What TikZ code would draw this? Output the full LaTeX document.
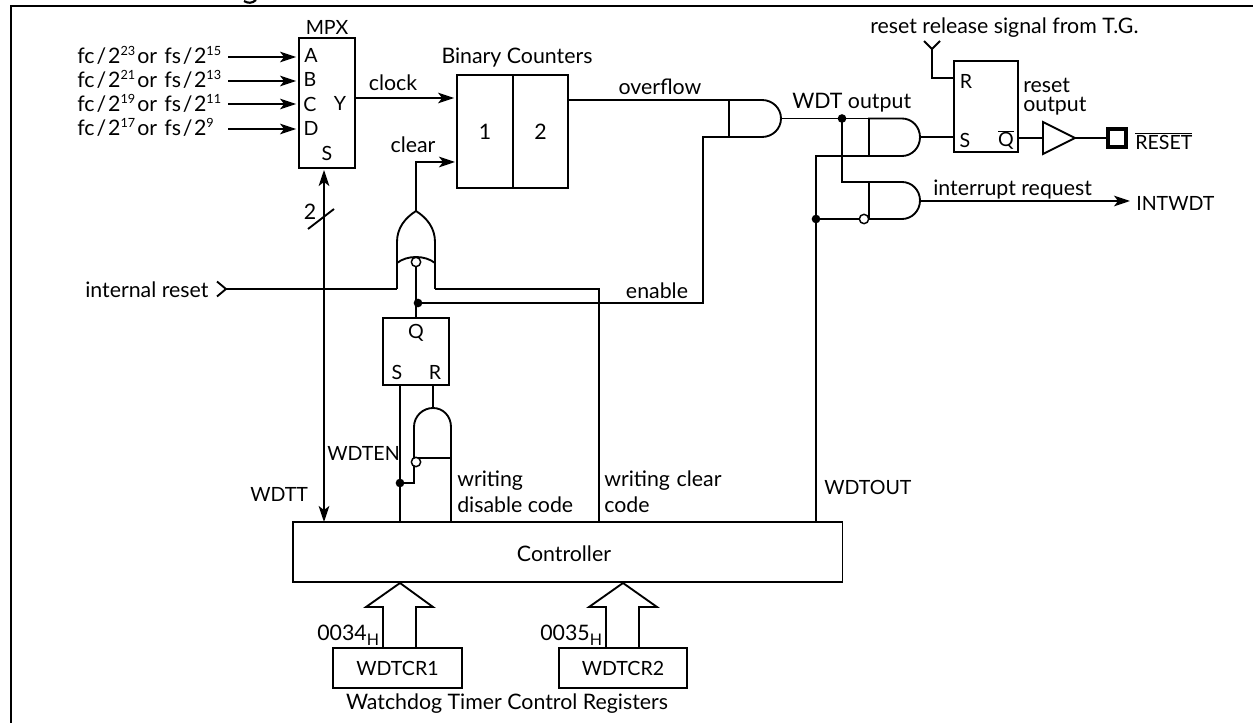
\documentclass[tikz,border=0pt]{standalone}
\usepackage{fontspec}
\setmainfont{Lato}
\usetikzlibrary{arrows.meta}
\newcommand{\upn}[1]{\raisebox{.42em}{\fontsize{9.5}{11}\selectfont #1}}
\newcommand{\dnn}[1]{\raisebox{-.25em}{\fontsize{12}{13}\selectfont #1}}
\newcommand{\fr}[2]{fc\kern1.5pt/\kern1.5pt2\upn{#1}\kern1.5pt or\kern5.5pt fs\kern1.2pt/\kern1.2pt2\upn{#2}}
\newcommand{\andh}[5]{% left, top, curve start, tip, bottom
  \draw[gate] (#1,#2) -- (#3,#2) .. controls ({#3+0.55*(#4-#3)},#2) and (#4,{(#2+#5)/2-0.28*(#5-#2)}) .. (#4,{(#2+#5)/2})
   .. controls (#4,{(#2+#5)/2+0.28*(#5-#2)}) and ({#3+0.55*(#4-#3)},#5) .. (#3,#5) -- (#1,#5) -- cycle;}
\tikzset{
  wire/.style={line width=1.4pt, line join=miter},
  gate/.style={line width=1.4pt},
  arr/.style={wire, -{Stealth[length=12pt,width=8pt,inset=3pt]}, shorten >=1.5pt},
  box/.style={draw, line width=1.4pt, inner sep=0pt, fill=white},
  lab/.style={inner sep=0pt, anchor=west},
  clab/.style={inner sep=0pt},
  capf/.style={font=\fontsize{14.7}{16}\selectfont},
  dot/.style={circle, fill=black, inner sep=0pt, minimum size=6.5pt},
  bub/.style={circle, draw, fill=white, line width=1.1pt, inner sep=0pt, minimum size=7pt},
}
\begin{document}
\begin{tikzpicture}[x=0.75pt,y=-0.75pt,font=\fontsize{16}{18}\selectfont]
\useasboundingbox (0,0) rectangle (1253,723);
% frame and clipped title remnant
\draw[line width=1.6pt] (11,723) -- (11,6) -- (1253,6);
\draw[line width=1.6pt] (244,1) .. controls (248,3.5) and (252,3.5) .. (256,0);
% boxes
\node[box,minimum width=42pt,minimum height=97.5pt] (mpx) at (327,103) {};
\node[box,minimum width=42pt,minimum height=84.75pt] (cnta) at (485,131.5) {1};
\node[box,minimum width=41.25pt,minimum height=84.75pt] (cntb) at (540.5,131.5) {2};
\node[box,minimum width=48pt,minimum height=68.25pt] (ffa) at (986,106.5) {};
\node[box,minimum width=49.5pt,minimum height=50.25pt] (ffb) at (416,351.5) {};
\node[box,minimum width=412.1pt,minimum height=45pt] (ctl) at (567.75,552) {};
\node[clab] (ctlt) at (564,554) {Controller};
\node[box,capf,minimum width=96.75pt,minimum height=30pt] (crone) at (397.5,668) {WDTCR1};
\node[box,capf,minimum width=96pt,minimum height=30pt] (crtwo) at (623,668) {WDTCR2};
% MPX labels
\node[clab,capf] (mpxt) at (327,27) {MPX};
\node[clab,capf] (pa) at (311,55) {A};
\node[clab,capf] (pb) at (310,79) {B};
\node[clab,capf] (pc) at (310,104) {C};
\node[clab,capf] (pd) at (311,128) {D};
\node[clab,capf] (py) at (340,103) {Y};
\node[clab,capf] (ps) at (327,153) {S};
% inputs
\node[lab,anchor=base west] (ia) at (77,64) {\fr{23}{15}};
\node[lab,anchor=base west] (ib) at (77,88) {\fr{21}{13}};
\node[lab,anchor=base west] (ic) at (77,112) {\fr{19}{11}};
\node[lab,anchor=base west] (id) at (77,136) {\fr{17}{9}};
\coordinate (ina) at (228,57);
\coordinate (inb) at (228,81);
\coordinate (inc) at (228,104);
\coordinate (ind) at (228,129);
\draw[arr] (ina) -- (mpx.west |- ina);
\draw[arr] (inb) -- (mpx.west |- inb);
\draw[arr] (inc) -- (mpx.west |- inc);
\draw[arr] (ind) -- (mpx.west |- ind);
% clock, clear
\coordinate (yo) at (355,98);
\draw[arr] (yo) -- (cnta.west |- yo);
\node[clab] (clk) at (393,83) {clock};
\node[clab] (clr) at (413,145) {clear};
\node[clab] (bc) at (517,58) {Binary Counters};
% OR gate
\coordinate (orl) at (397,289);
\coordinate (orr) at (435,289);
\coordinate (ortip) at (416,211);
\coordinate (clrin) at (457,162);
\draw[arr] (ortip) |- (clrin);
\draw[gate] (orl) -- (397,242) .. controls (397,228) and (405,218) .. (ortip) .. controls (427,218) and (435,228) .. (435,242) -- (orr);
\draw[gate] (397,263) .. controls (407,255) and (425,255) .. (435,263);
% internal reset
\node[lab] (ir) at (85,290) {internal reset};
\coordinate (irt) at (226,289);
\draw[wire] (irt) -- (orl);
\draw[wire] (217,281.5) -- (irt) -- (217,296.5);
% right OR input to writing clear code
\coordinate (wcc) at (599,522);
\draw[wire] (orr) -| (wcc);
% enable
\coordinate (qout) at (416,318);
\coordinate (endot) at (418,303);
\coordinate (ent) at (703,137);
\andh{729}{100}{762}{781}{137}
\draw[wire] (416,262) -- (qout);
\node[bub] (orb) at (416,262) {};
\draw[wire] (endot) -| (ent) -- (729,137);
\node[dot] at (endot) {};
\node[clab] (enl) at (657,291) {enable};
% overflow
\draw[wire] (cntb.east |- 0,100) -- (729,100);
\node[clab] (ovl) at (660,87) {overflow};
% WDT output
\coordinate (oa) at (781,118.5);
\coordinate (wd) at (842,118.5);
\andh{869}{118.5}{902}{920}{156}
\andh{869}{182}{902}{920}{219}
\draw[wire] (oa) -- (869,118.5);
\draw[wire] (wd) |- (869,182);
\node[dot] at (wd) {};
\node[lab] (wdl) at (792,103) {WDT output};
% WDTOUT
\coordinate (wo) at (816,522);
\draw[wire] (wo) |- (869,156);
\draw[wire] (816,219) -- (869,219);
\node[dot] at (816,219) {};
\node[bub] (gb) at (864,219) {};
\node[lab,capf] (wol) at (824,487) {WDTOUT};
% reset FF
\node[clab,capf] (fr) at (966,81) {R};
\node[clab,capf] (fs) at (965,140) {S};
\node[clab,capf] (fq) at (1006,140) {$\overline{\mbox{Q}}$};
\coordinate (rtop) at (932,49);
\coordinate (rin) at (954,78);
\draw[wire] (rtop) |- (rin);
\draw[wire] (924,41) -- (rtop) -- (940,41);
\node[lab] (rrs) at (870,28) {reset release signal from T.G.};
\draw[wire] (920,137) -- (ffa.west |- 0,137);
\node[lab,anchor=base west] (ro1) at (1023,93) {reset};
\node[lab,anchor=base west] (ro2) at (1023,112) {output};
% buffer
\coordinate (bi) at (1043,138);
\coordinate (bt) at (1075,138);
\draw[wire] (ffa.east |- bi) -- (bi);
\draw[gate] (1043,122) -- (bt) -- (1043,154) -- cycle;
\node[draw,line width=3pt,minimum width=13pt,minimum height=13pt,inner sep=0pt] (pad) at (1117,138) {};
\draw[wire] (bt) -- (pad.west);
\node[lab,capf] (rst) at (1135,141) {$\overline{\mbox{RESET}}$};
% interrupt
\coordinate (into) at (920,201);
\coordinate (intt) at (1132,201);
\draw[arr] (into) -- (intt);
\node[lab] (irq) at (933,190) {interrupt request};
\node[lab,capf] (iw) at (1136,203) {INTWDT};
% WDTT
\coordinate (wta) at (324,170);
\coordinate (wtb) at (324,522);
\draw[wire, {Stealth[length=12pt,width=8pt,inset=3pt]}-{Stealth[length=12pt,width=8pt,inset=3pt]}] (wta) -- (wtb);
\draw[wire] (308,229) -- (334,209);
\node[clab] (two) at (310,212) {2};
\node[lab,capf] (wtl) at (250,494) {WDTT};
% small gate
\coordinate (gtip) at (433,408);
\coordinate (wdc) at (451,522);
\coordinate (sl) at (400,385);
\draw[wire] (ffb.south -| gtip) -- (gtip);
\draw[wire] (sl) -- (400,522);
\draw[gate] (414,462) -- (414,427) .. controls (414,416) and (423,408) .. (gtip) .. controls (443,408) and (451,416) .. (451,427) -- (wdc);
\draw[wire] (416,458) -- (451,458);
\draw[wire] (400,483) -- (414,483) -- (414,462);
\node[bub] (sb) at (416,462) {};
\node[dot] at (400,483) {};
\node[clab,capf] (q2) at (416,333) {Q};
\node[clab,capf] (s2) at (397,372) {S};
\node[clab,capf] (r2) at (435,372) {R};
\node[lab,capf] (wten) at (327,453) {WDTEN};
\node[lab] (w1) at (457,481) {writing};
\node[lab] (w2) at (457,505) {disable code};
\node[lab] (w3) at (604,481) {writing\kern5pt clear};
\node[lab] (w4) at (604,505) {code};
% hollow arrows
\draw[gate] (383,648) -- (383,607) -- (366,607) -- (400,583) -- (433,607) -- (416,607) -- (416,648);
\draw[gate] (606,648) -- (606,607) -- (589,607) -- (623,583) -- (657,607) -- (639,607) -- (639,648);
\node[lab,anchor=base west] (a1) at (317,640) {0034\dnn{H}};
\node[lab,anchor=base west] (a2) at (540,640) {0035\dnn{H}};
\node[clab] (wl) at (507,704) {Watchdog Timer Control Registers};
\end{tikzpicture}
\end{document}
